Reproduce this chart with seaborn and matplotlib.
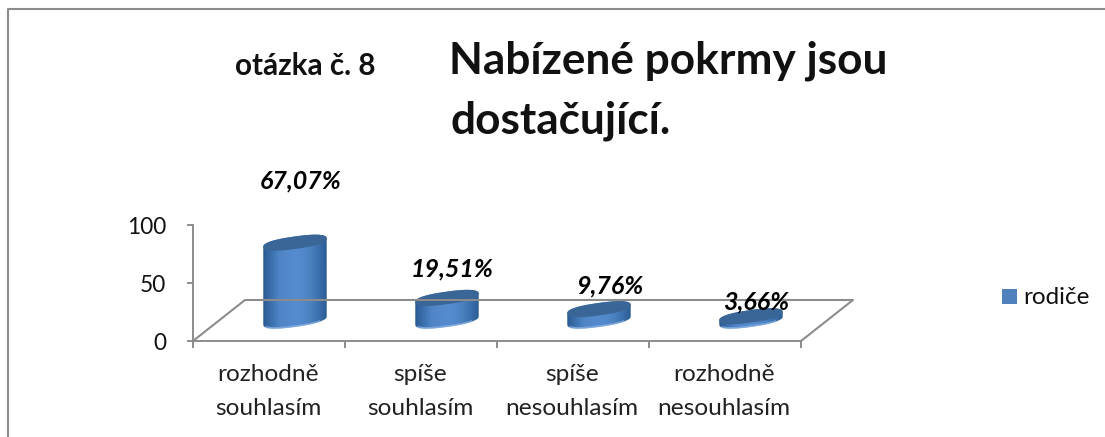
import numpy as np
import pandas as pd
import matplotlib
matplotlib.use("Agg")
import matplotlib.pyplot as plt
from matplotlib.lines import Line2D
from matplotlib.patches import Rectangle, Polygon
from matplotlib.path import Path
from matplotlib.transforms import IdentityTransform, Affine2D
from matplotlib.colors import LinearSegmentedColormap
import seaborn as sns

categories = ["rozhodně\nsouhlasím", "spíše\nsouhlasím", "spíše\nnesouhlasím", "rozhodně\nnesouhlasím"]
values = [67.07, 19.51, 9.76, 3.66]
series_name = "rodiče"
title_small = "otázka č. 8"
title_big = ["Nabízené pokrmy jsou", "dostačující."]
yticks = [0, 50, 100]

W, H = 1105, 437
sns.set_theme(style="white")
plt.rcParams["font.family"] = ["Lato", "DejaVu Sans"]

fig = plt.figure(figsize=(W / 100, H / 100), dpi=100, facecolor="white")
ax = fig.add_axes([193 / W, 1 - 341 / H, 608 / W, 116 / H])
ax.patch.set_alpha(0)

df = pd.DataFrame({"kategorie": categories, "hodnota": values})
DX, DY = 26, 20.5          # pixel depth shift of the 3D floor
shift = Affine2D().translate(DX, DY)
sns.barplot(data=df, x="kategorie", y="hodnota", color="#4F81BD", width=64 / 152,
            saturation=1, ax=ax, legend=False)
ax.set_xlim(-0.5, 3.5)
ax.set_ylim(0, 100)
ax.set_xlabel("")
ax.set_ylabel("")

GRID = "#8C8C8C"
for s in ("top", "right"):
    ax.spines[s].set_visible(False)
for s in ("left", "bottom"):
    ax.spines[s].set_color(GRID)
    ax.spines[s].set_linewidth(1.4)
ax.set_yticks(yticks)
ax.set_xticks(np.arange(-0.5, 4, 1))
ax.set_xticklabels([])
ax.tick_params(axis="both", length=5, width=1.4, color=GRID, bottom=True, left=True,
               labelsize=16.3, labelcolor="#111111")
ax.tick_params(axis="y", length=4.5, pad=15)
for i, c in enumerate(categories):
    ax.annotate(c, (i, 0), xycoords=("data", "axes fraction"), xytext=(-0.5, -16.5),
                textcoords="offset points", ha="center", va="top", fontsize=17.6,
                color="#222222", linespacing=1.78)

# 3D floor outline
p0 = ax.transData.transform((-0.5, 0))
p1 = ax.transData.transform((3.5, 0))
fd = 52, 41
fx = [p0[0], p0[0] + fd[0], p1[0] + fd[0], p1[0]]
fy = [p0[1], p0[1] + fd[1], p1[1] + fd[1], p1[1]]
fig.add_artist(Line2D([x / W for x in fx], [y / H for y in fy], color=GRID, lw=1.5, zorder=0.5))

# cylinders from the bars (slightly squared ellipses, as in the 3D renderer)
theta = np.radians(8)
a, b = 32.0, 6.2
def ell(cx, cy, t):
    c, s = np.cos(t), np.sin(t)
    ex = a * np.sign(c) * np.abs(c) ** 0.82
    ey = b * np.sign(s) * np.abs(s) ** 0.82
    return np.c_[cx + ex * np.cos(theta) - ey * np.sin(theta),
                 cy + ex * np.sin(theta) + ey * np.cos(theta)]

cmap = LinearSegmentedColormap.from_list(
    "cyl", ["#2A5A92", "#3C70AD", "#4F85C6", "#5389CB", "#558CCF", "#5389CB", "#4980BE", "#3C70AC", "#2C5C95"])
grad = np.linspace(0, 1, 64).reshape(1, -1)
px_per_unit = 116 / 100
pad = 14 / px_per_unit     # image overscan, trimmed by the clip outline
tilt = np.arctan2(b * np.sin(theta), a * np.cos(theta))
for bar in list(ax.patches):
    bar.set_visible(False)
    x0 = bar.get_x(); x1 = x0 + bar.get_width(); v = bar.get_height()
    (px0, pb), (px1, pt) = ax.transData.transform([(x0, 0), (x1, v)])
    cx = (px0 + px1) / 2 + DX
    yb, yt = pb + DY, pt + DY
    ts = np.linspace(0, 2 * np.pi, 181)
    # body outline: lower half of base ellipse + upper half of top ellipse
    e_b = ell(cx, yb, np.linspace(np.pi - tilt, 2 * np.pi - tilt, 90))
    e_t = ell(cx, yt, np.linspace(-tilt, np.pi - tilt, 90))
    outline = np.vstack([e_b, e_t])
    body = ax.imshow(grad, cmap=cmap, aspect="auto", zorder=3,
                     extent=(x0, x1, -pad, v + pad), interpolation="bilinear",
                     transform=ax.transData + shift, clip_on=True)
    body.set_clip_path(Path(outline), IdentityTransform())
    # lit rim along the base
    ax.add_patch(Polygon(ell(cx, yb + 0.6, np.linspace(np.pi + 0.35, 2 * np.pi - 0.75, 40)),
                         closed=False, fill=False, edgecolor="#86AEE2", lw=1.3, alpha=0.8,
                         transform=IdentityTransform(), zorder=3.5, clip_on=False))
    ax.add_patch(Polygon(ell(cx, yt, ts), closed=True, facecolor="#3A6597", edgecolor="none",
                         transform=IdentityTransform(), zorder=4, clip_on=False))
ax.set_xlim(-0.5, 3.5)
ax.set_ylim(0, 100)

# value labels
label_offsets = [62, 29, 23, 14]   # px above the cylinder top
label_dx = [6, 5.5, 10.5, 5]
for i, v in enumerate(values):
    (px, py) = ax.transData.transform((i, v))
    fig.text((px + DX + label_dx[i]) / W, (py + DY + label_offsets[i]) / H,
             f"{v:.2f}%".replace(".", ","), ha="center", va="center",
             fontsize=18, fontweight="bold", fontstyle="italic", color="black", zorder=6)

# titles
fig.text(235 / W, 1 - 66 / H, title_small, fontsize=21.3, fontweight="bold", color="#111111", va="center")
fig.text(449 / W, 1 - 61 / H, title_big[0], fontsize=31.8, fontweight="bold", color="#111111", va="center")
fig.text(450 / W, 1 - 121 / H, title_big[1], fontsize=31.8, fontweight="bold", color="#111111", va="center")

# legend
fig.add_artist(Rectangle((1002 / W, 1 - 304 / H), 15 / W, 15 / H, transform=fig.transFigure, color="#4F81BD", lw=0))
fig.text(1023 / W, 1 - 297 / H, series_name, fontsize=17.5, color="#111111", va="center")

# outer frame: left and top edges only
fig.add_artist(Line2D([7.5 / W, 7.5 / W, 1], [0, 1 - 8.5 / H, 1 - 8.5 / H],
                      color="#8C8C8C", lw=1.5))

fig.savefig("out.png", dpi=100)
